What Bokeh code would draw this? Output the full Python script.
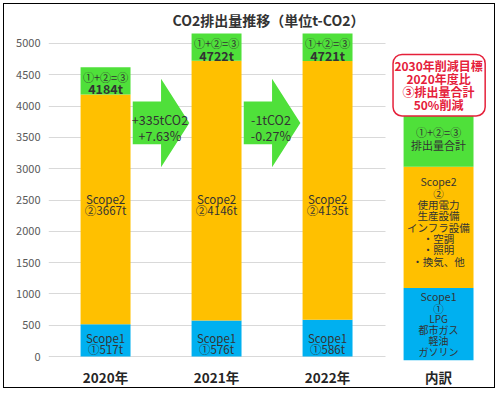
from bokeh.plotting import figure
from bokeh.models import FixedTicker, Range1d
from bokeh.models import Grid
from bokeh.core.properties import value
from bokeh.embed import file_html
from bokeh.resources import INLINE

# ---------------- data ----------------
years = ["2020年", "2021年", "2022年"]
scope1 = [517, 576, 586]
scope2 = [3667, 4146, 4135]
totals = [4184, 4722, 4721]
total_box = [435, 437, 438]          # green "total" label segment stacked on top
change_labels = ["+335tCO2\n+7.63%", "-1tCO2\n-0.27%"]
y_ticks = [0, 500, 1000, 1500, 2000, 2500, 3000, 3500, 4000, 4500, 5000]

breakdown_label = "内訳"
breakdown_edges = [-63, 1095, 3032, 3841]   # blue / orange / green segments
breakdown_scope1 = "Scope1\n①"
breakdown_scope1_items = "LPG\n都市ガス\n軽油\nガソリン"
breakdown_scope2 = "Scope2\n②\n使用電力\n生産設備\nインフラ設備\n・空調\n・照明\n・換気、他"
breakdown_total = "①+②=③\n排出量合計"
target_range = [3841, 4825]
target_text = "2030年削減目標\n2020年度比\n③排出量合計\n50%削減"

# ---------------- style ----------------
FONT = "Noto Sans CJK JP"
BLUE = "#00B0F0"
ORANGE = "#FFC000"
GREEN = "#4FE03A"
TXT = "#333333"
RED = "#E5203A"
PX = 5000 / 315.0      # data units per pixel (vertical)
BAR_W = 0.45
BD_W = 0.63
LM = 1.45              # font line metric factor

xs = [1, 2, 3]
bd_x = 4

p = figure(width=492, height=385, output_backend="svg", toolbar_location=None,
           x_range=Range1d(0.486, 4.45), y_range=Range1d(-63, 5175),
           min_border_left=44, min_border_right=8, min_border_top=27,
           min_border_bottom=28, title="CO2排出量推移（単位t-CO2）")
p.styles = {"border": "1px solid #000000", "margin": "3px 0px 0px 3px"}
p.outline_line_color = None
p.title.align = "center"
p.title.text_font = FONT
p.title.text_font_size = "14px"
p.title.text_font_style = "bold"
p.title.text_color = "#333333"
p.title.standoff = 6

p.xgrid.visible = False
p.ygrid.grid_line_color = "#D9D9D9"
p.ygrid.ticker = FixedTicker(ticks=y_ticks)
if "cross_bounds" in Grid.properties():
    p.ygrid.cross_bounds = (0.486, 3.52)

p.yaxis.ticker = FixedTicker(ticks=y_ticks)
p.yaxis.axis_line_color = None
p.yaxis.major_tick_line_color = None
p.yaxis.minor_tick_line_color = None
p.yaxis.major_tick_out = 0
p.yaxis.major_label_text_font = FONT
p.yaxis.major_label_text_font_size = "11px"
p.yaxis.major_label_text_color = "#595959"
p.yaxis.major_label_standoff = 8

p.xaxis.ticker = FixedTicker(ticks=xs + [bd_x])
p.xaxis.major_label_overrides = {1: years[0], 2: years[1], 3: years[2], 4: breakdown_label}
p.xaxis.axis_line_color = None
p.xaxis.major_tick_line_color = None
p.xaxis.minor_tick_line_color = None
p.xaxis.major_tick_out = 0
p.xaxis.major_label_text_font = FONT
p.xaxis.major_label_text_font_size = "13.5px"
p.xaxis.major_label_text_font_style = "bold"
p.xaxis.major_label_text_color = "#262626"
p.xaxis.major_label_standoff = 6

# stacked bars
top2 = [a + b for a, b in zip(scope1, scope2)]
p.vbar(x=xs, width=BAR_W, bottom=0, top=scope1, fill_color=BLUE, line_color=None)
p.vbar(x=xs, width=BAR_W, bottom=scope1, top=top2, fill_color=ORANGE, line_color=None)
p.vbar(x=xs, width=BAR_W, bottom=top2, top=[t + b for t, b in zip(top2, total_box)],
       fill_color=GREEN, line_color=None)

def txt(x, y, text, size=11, style="normal", color=TXT, spacing=None):
    lh = (spacing / (size * LM)) if spacing else 1.0
    p.text(x=x, y=y, text=text, text_align="center", text_baseline="middle",
           text_font=value(FONT), text_font_size=f"{size}px", text_font_style=style,
           text_color=color, text_line_height=lh)

# bar labels
txt(xs, [206] * 3, [f"Scope1\n①{v}t" for v in scope1], size=11.5, spacing=12)
txt(xs, [2430] * 3, [f"Scope2\n②{v}t" for v in scope2], size=11.5, spacing=12)
mids = [t + b / 2 for t, b in zip(top2, total_box)]
txt(xs, [m + 4 * PX for m in mids], ["①+②=③"] * 3, size=11)
txt(xs, [m - 8 * PX for m in mids], [f"{v}t" for v in totals], size=12.5, style="bold")

# change arrows
axs, ays = [], []
acx, acy = [], []
yc = 3730
body = 21.5 * PX
head = 44.5 * PX
for i in range(len(xs) - 1):
    x0 = xs[i] + BAR_W / 2 + 0.02
    x1 = xs[i + 1] - BAR_W / 2 - 0.02
    xh = x0 + (x1 - x0) * 0.5
    axs.append([x0, xh, xh, x1, xh, xh, x0])
    ays.append([yc + body, yc + body, yc + head, yc, yc - head, yc - body, yc - body])
    acx.append((x0 + x1) / 2 - 0.01)
    acy.append(yc - 4.5 * PX)
p.patches(xs=axs, ys=ays, fill_color=GREEN, line_color=None)
txt(acx, acy, change_labels, size=12.5, color="#333333", spacing=15)

# breakdown column
cols = [BLUE, ORANGE, GREEN]
p.vbar(x=[bd_x] * 3, width=BD_W, bottom=breakdown_edges[:-1], top=breakdown_edges[1:],
       fill_color=cols, line_color=None)
b_mid = [(a + b) / 2 for a, b in zip(breakdown_edges[:-1], breakdown_edges[1:])]
txt([bd_x], [b_mid[0] + 22 * PX], [breakdown_scope1], size=10.5, spacing=11.5)
txt([bd_x], [b_mid[0] - 11 * PX], [breakdown_scope1_items], size=10, spacing=10.5)
txt([bd_x], [b_mid[1] + 6 * PX], [breakdown_scope2], size=10.5, spacing=11.5)
txt([bd_x], [b_mid[2] + 3 * PX], [breakdown_total], size=11, spacing=13)

# target box
qkw = dict(left=[bd_x - 0.41], right=[bd_x + 0.42], bottom=[target_range[0]], top=[target_range[1]],
           fill_color="white", line_color=RED, line_width=1.5)
try:
    p.quad(border_radius=9, **qkw)
except Exception:
    p.quad(**qkw)
txt([bd_x], [(target_range[0] + target_range[1]) / 2], [target_text],
    size=12, style="bold", color=RED, spacing=13.2)

open("out.html", "w").write(file_html(p, INLINE))
